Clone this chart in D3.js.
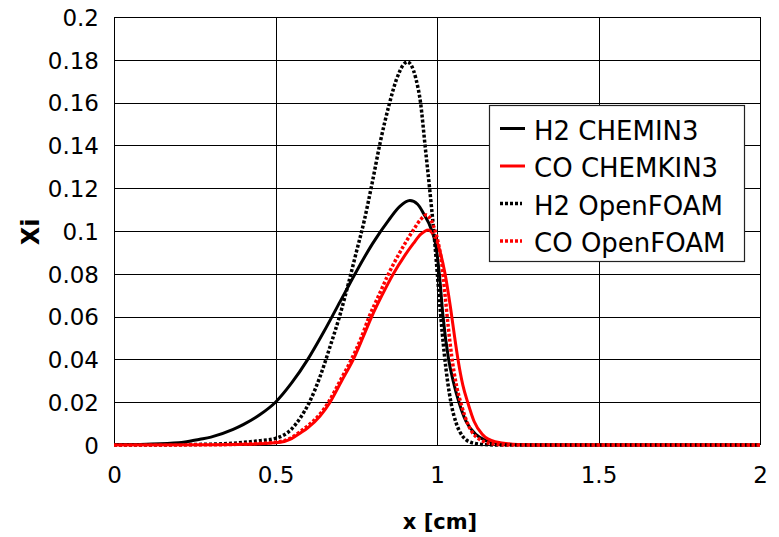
<!DOCTYPE html>
<html>
<head>
<meta charset="utf-8">
<script src="https://cdn.jsdelivr.net/npm/d3@7"></script>
<style>
  html, body { margin: 0; padding: 0; background: #fff; }
  svg { display: block; }
</style>
</head>
<body>
<svg id="chart" width="779" height="537"></svg>
<script>
// Axis ticks
const xTicks = [0, 0.5, 1, 1.5, 2];
const yTicks = [0, 0.02, 0.04, 0.06, 0.08, 0.1, 0.12, 0.14, 0.16, 0.18, 0.2];

// Mole fraction profiles, [x (cm), Xi]
const h2Chemkin = [
  [0, 0.0002], [0.1, 0.0004], [0.2, 0.001], [0.266, 0.0027], [0.3, 0.0037],
  [0.369, 0.0073], [0.4, 0.0095], [0.45, 0.014], [0.5, 0.02], [0.55, 0.029],
  [0.6, 0.04], [0.65, 0.053], [0.7, 0.067], [0.75, 0.081], [0.8, 0.094],
  [0.85, 0.105], [0.885, 0.1115], [0.916, 0.1142], [0.94, 0.1125], [0.958, 0.1083],
  [0.983, 0.1005], [0.997, 0.0927], [1.009, 0.077], [1.018, 0.061], [1.036, 0.04],
  [1.05, 0.03], [1.068, 0.02], [1.09, 0.011], [1.12, 0.005], [1.15, 0.0022],
  [1.2, 0.0006], [1.25, 0.0001], [1.3, 0], [2, 0]
];
const coChemkin = [
  [0, 0], [0.3, 0.0001], [0.4, 0.0003], [0.5, 0.001], [0.55, 0.003],
  [0.576, 0.0055], [0.6, 0.008], [0.638, 0.0135], [0.669, 0.02], [0.705, 0.03],
  [0.741, 0.04], [0.77, 0.05], [0.798, 0.06], [0.83, 0.07], [0.865, 0.08],
  [0.9, 0.0885], [0.927, 0.0942], [0.95, 0.0985], [0.973, 0.1005], [0.99, 0.098],
  [1.0, 0.095], [1.012, 0.089], [1.025, 0.08], [1.042, 0.064], [1.055, 0.05],
  [1.065, 0.04], [1.08, 0.028], [1.095, 0.02], [1.115, 0.011], [1.14, 0.005],
  [1.18, 0.0015], [1.25, 0.0002], [1.3, 0], [2, 0]
];
const h2OpenFoam = [
  [0, 0.0001], [0.2, 0.0002], [0.3, 0.0004], [0.4, 0.0012], [0.45, 0.002],
  [0.5, 0.0031], [0.55, 0.0075], [0.576, 0.0125], [0.605, 0.02], [0.638, 0.032],
  [0.669, 0.046], [0.7, 0.061], [0.725, 0.075], [0.75, 0.09], [0.775, 0.105],
  [0.8, 0.123], [0.825, 0.142], [0.85, 0.158], [0.875, 0.171], [0.895, 0.1775],
  [0.908, 0.179], [0.92, 0.1775], [0.935, 0.171], [0.949, 0.16], [0.963, 0.14],
  [0.977, 0.12], [0.99, 0.1], [1.0, 0.082], [1.01, 0.063], [1.023, 0.042],
  [1.043, 0.02], [1.06, 0.01], [1.08, 0.004], [1.11, 0.001], [1.16, 0.0001],
  [1.2, 0], [2, 0]
];
const coOpenFoam = [
  [0, 0], [0.3, 0.0001], [0.4, 0.0004], [0.5, 0.0013], [0.55, 0.0035],
  [0.576, 0.0062], [0.6, 0.009], [0.638, 0.0145], [0.664, 0.02], [0.7, 0.03],
  [0.735, 0.04], [0.765, 0.05], [0.79, 0.06], [0.82, 0.07], [0.85, 0.08],
  [0.885, 0.09], [0.927, 0.1005], [0.95, 0.1055], [0.967, 0.1075], [0.98, 0.1055],
  [0.99, 0.102], [1.0, 0.097], [1.0145, 0.085], [1.025, 0.07], [1.035, 0.055],
  [1.045, 0.042], [1.06, 0.028], [1.075, 0.019], [1.095, 0.01], [1.12, 0.004],
  [1.17, 0.0006], [1.22, 0], [2, 0]
];

const legendLabels = ["H2 CHEMIN3", "CO CHEMKIN3", "H2 OpenFOAM", "CO OpenFOAM"];
const seriesColors = ["#000000", "#ff0000", "#000000", "#ff0000"];
const seriesDashed = [false, false, true, true];
const seriesData = [h2Chemkin, coChemkin, h2OpenFoam, coOpenFoam];

const svg = d3.select("#chart");
const plot = { left: 114, right: 760, top: 17, bottom: 445 };

const x = d3.scaleLinear().domain([0, 2]).range([plot.left, plot.right]);
const y = d3.scaleLinear().domain([0, 0.2]).range([plot.bottom, plot.top]);

const tickFont = "DejaVu Sans, Noto Sans, sans-serif";

// Grid lines
const grid = svg.append("g").attr("shape-rendering", "crispEdges");
grid.selectAll("line.h").data(yTicks).join("line")
  .attr("class", "h")
  .attr("x1", plot.left).attr("x2", plot.right)
  .attr("y1", d => Math.round(y(d)) + 0.5).attr("y2", d => Math.round(y(d)) + 0.5)
  .attr("stroke", "#000").attr("stroke-width", 1);
grid.selectAll("line.v").data(xTicks).join("line")
  .attr("class", "v")
  .attr("y1", plot.top).attr("y2", plot.bottom)
  .attr("x1", d => Math.round(x(d)) + 0.5).attr("x2", d => Math.round(x(d)) + 0.5)
  .attr("stroke", "#000").attr("stroke-width", 1);

// Y axis labels
const yAxis = d3.axisLeft(y).tickValues(yTicks).tickSize(0).tickPadding(15)
  .tickFormat(d => d3.format("~g")(d));
const gy = svg.append("g").attr("transform", `translate(${plot.left},0)`).call(yAxis);
gy.select(".domain").remove();
gy.selectAll("text").attr("font-family", tickFont).attr("font-size", 23)
  .attr("fill", "#000").attr("dy", "0.36em");

// X axis labels
const xAxis = d3.axisBottom(x).tickValues(xTicks).tickSize(0).tickPadding(22)
  .tickFormat(d => d3.format("~g")(d));
const gx = svg.append("g").attr("transform", `translate(0,${plot.bottom})`).call(xAxis);
gx.select(".domain").remove();
gx.selectAll("text").attr("font-family", tickFont).attr("font-size", 23).attr("fill", "#000");

// Axis titles
svg.append("text")
  .attr("transform", "translate(39,232) rotate(-90)")
  .attr("text-anchor", "middle")
  .attr("font-family", tickFont).attr("font-weight", "bold").attr("font-size", 24)
  .text("Xi");
svg.append("text")
  .attr("x", 440).attr("y", 529)
  .attr("text-anchor", "middle")
  .attr("font-family", tickFont).attr("font-weight", "bold").attr("font-size", 21)
  .text("x [cm]");

// Profiles
const line = d3.line().x(d => x(d[0])).y(d => y(d[1])).curve(d3.curveMonotoneX);
const curves = svg.append("g").attr("fill", "none");
seriesData.forEach((data, i) => {
  curves.append("path")
    .datum(data)
    .attr("d", line)
    .attr("stroke", seriesColors[i])
    .attr("stroke-width", seriesDashed[i] ? 3.5 : 3)
    .attr("stroke-dasharray", seriesDashed[i] ? "3,2" : null);
});

// Legend
const legend = svg.append("g");
legend.append("rect")
  .attr("x", 489.5).attr("y", 105.5).attr("width", 255).attr("height", 156)
  .attr("fill", "#fff").attr("stroke", "#222").attr("stroke-width", 1.2);
legendLabels.forEach((label, i) => {
  const base = 139.5 + i * 37.5;
  legend.append("line")
    .attr("x1", 500).attr("x2", seriesDashed[i] ? 522 : 525)
    .attr("y1", base - 11).attr("y2", base - 11)
    .attr("stroke", seriesColors[i])
    .attr("stroke-width", seriesDashed[i] ? 3.5 : 3)
    .attr("stroke-dasharray", seriesDashed[i] ? "3,2" : null);
  legend.append("text")
    .attr("x", 534).attr("y", base)
    .attr("font-family", tickFont).attr("font-size", 26).attr("fill", "#000")
    .text(label);
});
</script>
</body>
</html>
